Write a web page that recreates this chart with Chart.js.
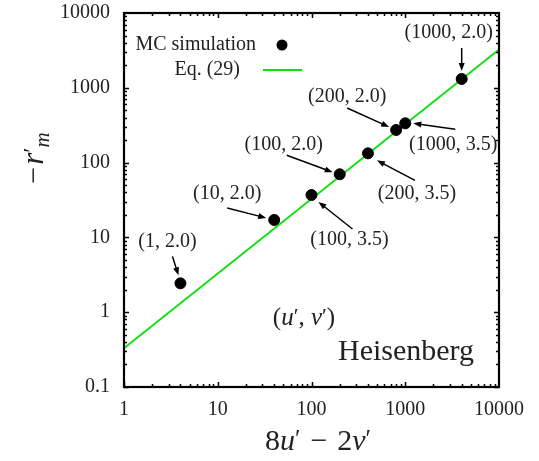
<!DOCTYPE html>
<html>
<head>
<meta charset="utf-8">
<script src="https://cdn.jsdelivr.net/npm/chart.js@4.4.1/dist/chart.umd.min.js"></script>
<style>
  html, body { margin: 0; padding: 0; background: #fff; }
  #wrap { width: 539px; height: 461px; }
</style>
</head>
<body>
<div id="wrap"><canvas id="chart" width="539" height="461"></canvas></div>
<script>
// data
const pairLabels = ["(1, 2.0)", "(10, 2.0)", "(100, 3.5)", "(100, 2.0)", "(200, 3.5)", "(200, 2.0)", "(1000, 3.5)", "(1000, 2.0)"];
const mcX = [4, 40, 100, 200, 400, 800, 1000, 4000];
const mcY = [2.43, 17.1, 36.9, 69.8, 133, 273, 335, 1312];
const eqX = [1, 10000];
const eqY = [0.33, 3250];
const xTicks = [1, 10, 100, 1000, 10000];
const yTicks = [0.1, 1, 10, 100, 1000, 10000];

// label / arrow placement, pixels relative to each dot: [labelDx, labelDy, tailDx, tailDy, headDx, headDy]
const labelOffsets = [
  [-13, -42, -8, -27, -2, -8],
  [-47, -26, -47, -12, -8, -2],
  [38, 45, 41, 34, 7, 7],
  [-56, -30, -53, -19, -7, -2],
  [49, 40, 47, 27, 9, 7],
  [-49, -33, -49, -22, -7, -3],
  [48, 21, 50, 6, 8, 0],
  [-13, -46, 0, -31, 0, -8]
];

const SERIF = '"Liberation Serif", "DejaVu Serif", serif';
const INK = '#222';
const GREEN = '#11e011';

function drawRich(ctx, parts, x, y) {
  // parts: {t, it, size, dy}; drawn centred on x, baseline y
  let w = 0;
  parts.forEach(p => {
    ctx.font = (p.it ? 'italic ' : '') + p.size + 'px ' + SERIF;
    p.w = ctx.measureText(p.t).width;
    w += p.w + (p.gap || 0);
  });
  let cx = x - w / 2;
  ctx.textAlign = 'left';
  ctx.textBaseline = 'alphabetic';
  parts.forEach(p => {
    ctx.font = (p.it ? 'italic ' : '') + p.size + 'px ' + SERIF;
    ctx.fillText(p.t, cx, y + (p.dy || 0));
    cx += p.w + (p.gap || 0);
  });
}

function arrow(ctx, x1, y1, x2, y2) {
  const a = Math.atan2(y2 - y1, x2 - x1);
  const len = 8, half = 3;
  ctx.beginPath();
  ctx.moveTo(x1, y1);
  ctx.lineTo(x2 - Math.cos(a) * len * 0.8, y2 - Math.sin(a) * len * 0.8);
  ctx.stroke();
  ctx.beginPath();
  ctx.moveTo(x2, y2);
  ctx.lineTo(x2 - Math.cos(a) * len + Math.sin(a) * half, y2 - Math.sin(a) * len - Math.cos(a) * half);
  ctx.lineTo(x2 - Math.cos(a) * len - Math.sin(a) * half, y2 - Math.sin(a) * len + Math.cos(a) * half);
  ctx.closePath();
  ctx.fill();
}

const decor = {
  id: 'decor',
  afterDraw(chart) {
    const ctx = chart.ctx;
    const area = chart.chartArea;
    const xs = chart.scales.x, ys = chart.scales.y;
    ctx.save();

    // minor/major ticks on all four sides, pointing inward
    ctx.strokeStyle = '#000';
    ctx.lineWidth = 1.5;
    for (let d = 1; d < 10000; d *= 10) {
      for (let k = 1; k <= 9; k++) {
        const px = Math.round(xs.getPixelForValue(k * d)) + 0.5;
        const l = k === 1 ? 5 : 3;
        ctx.beginPath();
        ctx.moveTo(px, area.bottom); ctx.lineTo(px, area.bottom - l);
        ctx.moveTo(px, area.top); ctx.lineTo(px, area.top + l);
        ctx.stroke();
      }
    }
    for (let d = 0.1; d < 9999; d *= 10) {
      for (let k = 1; k <= 9; k++) {
        const py = Math.round(ys.getPixelForValue(k * d)) + 0.5;
        const l = k === 1 ? 5 : 3;
        ctx.beginPath();
        ctx.moveTo(area.left, py); ctx.lineTo(area.left + l, py);
        ctx.moveTo(area.right, py); ctx.lineTo(area.right - l, py);
        ctx.stroke();
      }
    }

    // frame
    ctx.lineWidth = 2.2;
    ctx.strokeRect(area.left, area.top, area.right - area.left, area.bottom - area.top);

    // point annotations
    ctx.strokeStyle = '#000';
    ctx.lineWidth = 1.5;
    pairLabels.forEach((lab, i) => {
      const px = xs.getPixelForValue(mcX[i]);
      const py = ys.getPixelForValue(mcY[i]);
      const o = labelOffsets[i];
      ctx.font = '20px ' + SERIF;
      ctx.textAlign = 'center';
      ctx.textBaseline = 'middle';
      ctx.fillStyle = INK;
      ctx.fillText(lab, px + o[0], py + o[1]);
      ctx.fillStyle = '#000';
      arrow(ctx, px + o[2], py + o[3], px + o[4], py + o[5]);
    });

    // legend
    ctx.fillStyle = INK;
    ctx.font = '20px ' + SERIF;
    ctx.textAlign = 'right';
    ctx.textBaseline = 'middle';
    ctx.fillText('MC simulation', 256, 45);
    ctx.fillText('Eq. (29)', 240, 70);
    ctx.fillStyle = '#000';
    ctx.beginPath();
    ctx.arc(282, 45, 5.5, 0, Math.PI * 2);
    ctx.fill();
    ctx.strokeStyle = GREEN;
    ctx.lineWidth = 1.8;
    ctx.beginPath();
    ctx.moveTo(263, 70); ctx.lineTo(302, 70);
    ctx.stroke();

    // in-plot texts
    ctx.fillStyle = INK;
    drawRich(ctx, [
      {t: '(', size: 25}, {t: 'u', it: true, size: 25}, {t: '\u2032', size: 22, dy: -2},
      {t: ', ', size: 25}, {t: 'v', it: true, size: 25}, {t: '\u2032', size: 22, dy: -2},
      {t: ')', size: 25}
    ], 304, 325);
    ctx.font = '30px ' + SERIF;
    ctx.textAlign = 'center';
    ctx.textBaseline = 'middle';
    ctx.fillText('Heisenberg', 406, 352);

    // x title
    drawRich(ctx, [
      {t: '8', size: 30}, {t: 'u', it: true, size: 30}, {t: '\u2032', size: 25, dy: -3, gap: 10},
      {t: '\u2212', size: 30, gap: 10}, {t: '2', size: 30}, {t: 'v', it: true, size: 30},
      {t: '\u2032', size: 25, dy: -3}
    ], 318, 450);

    // y title, rotated
    ctx.save();
    ctx.translate(43, 158);
    ctx.rotate(-Math.PI / 2);
    drawRich(ctx, [
      {t: '\u2212', size: 30, gap: 2}, {t: 'r', it: true, size: 31}, {t: '\u2032', size: 24, dy: -4},
      {t: 'm', it: true, size: 21, dy: 6}
    ], 0, 0);
    ctx.restore();

    ctx.restore();
  }
};

new Chart(document.getElementById('chart'), {
  type: 'scatter',
  data: {
    datasets: [
      {
        label: 'MC simulation',
        data: mcX.map((x, i) => ({x: x, y: mcY[i]})),
        backgroundColor: '#000',
        borderColor: '#000',
        pointRadius: 5.5,
        pointHoverRadius: 5.5
      },
      {
        label: 'Eq. (29)',
        data: eqX.map((x, i) => ({x: x, y: eqY[i]})),
        showLine: true,
        borderColor: GREEN,
        borderWidth: 1.8,
        pointRadius: 0
      }
    ]
  },
  options: {
    responsive: false,
    animation: false,
    layout: { padding: { left: 0, right: 40, top: 13, bottom: 0 } },
    plugins: { legend: { display: false }, tooltip: { enabled: false } },
    scales: {
      x: {
        type: 'logarithmic',
        min: 1,
        max: 10000,
        grid: { display: false, drawTicks: false },
        border: { display: false },
        afterBuildTicks: s => { s.ticks = xTicks.map(v => ({value: v})); },
        afterFit: s => { s.height = 74; s.paddingLeft = 0; s.paddingRight = 0; },
        ticks: {
          autoSkip: false,
          maxRotation: 0,
          padding: 11,
          color: INK,
          font: { family: SERIF, size: 20 },
          callback: v => String(v)
        }
      },
      y: {
        type: 'logarithmic',
        min: 0.1,
        max: 10000,
        grid: { display: false, drawTicks: false },
        border: { display: false },
        afterBuildTicks: s => { s.ticks = yTicks.map(v => ({value: v})); },
        afterFit: s => { s.width = 124; s.paddingTop = 0; s.paddingBottom = 0; },
        ticks: {
          autoSkip: false,
          padding: 14,
          color: INK,
          font: { family: SERIF, size: 20 },
          callback: v => String(v)
        }
      }
    }
  },
  plugins: [decor]
});
</script>
</body>
</html>
